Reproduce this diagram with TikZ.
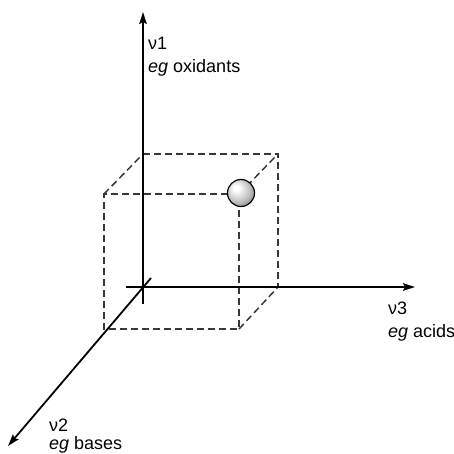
\documentclass[tikz,border=0pt]{standalone}
\usepackage{fontspec}
\setmainfont{Liberation Sans}
\usetikzlibrary{arrows.meta}
\pgfdeclareradialshading{sphereshade}{\pgfpoint{-10bp}{10bp}}{color(0bp)=(white); color(5bp)=(white); color(24bp)=(gray!55); color(42bp)=(gray!60!black); color(60bp)=(gray!50!black)}
\tikzset{
  axis/.style={line width=1.8pt, draw=black, -{Stealth[length=12pt,width=7.5pt,inset=2pt]}},
  edge/.style={line width=1.5pt, draw=black!78, dash pattern=on 7pt off 4pt},
  lbl/.style={anchor=base west, inner sep=0pt, font=\fontsize{18}{21}\selectfont},
  ball/.style={circle, minimum size=27pt, inner sep=0pt, draw=black, line width=1.2pt, shading=sphereshade}
}
\begin{document}
\begin{tikzpicture}[x=1pt,y=-1pt]
\useasboundingbox (0,0) rectangle (454,453);
% axis end points
\coordinate (vbot) at (143,304);
\coordinate (vtop) at (143,12);
\coordinate (hleft) at (126,287);
\coordinate (hright) at (415,287);
\coordinate (dtop) at (151,278);
\coordinate (dbot) at (8,446);
% cube corners (back face b*, front face f*)
\coordinate (btl) at (143,154);
\coordinate (btr) at (278,154);
\coordinate (bbr) at (278,287);
\coordinate (ftl) at (104,194);
\coordinate (ftr) at (239,194);
\coordinate (fbl) at (104,329);
\coordinate (fbr) at (239,329);
% dashed cube
\draw[edge] (btl) -- (btr) -- (bbr);
\draw[edge] (ftr) -- (ftl) -- (fbl) -- (fbr) -- (ftr);
\draw[edge] (ftl) -- (btl);
\draw[edge] (ftr) -- (btr);
\draw[edge] (fbr) -- (bbr);
% axes
\draw[axis] (vbot) -- (vtop);
\draw[axis] (hleft) -- (hright);
\draw[axis] (dtop) -- (dbot);
% sphere
\node[ball] (sph) at (241,193) {};
% labels
\node[lbl] (n1) at (148,49) {ν1};
\node[lbl] (e1) at (148,72) {\textit{eg} oxidants};
\node[lbl] (n3) at (388,314) {ν3};
\node[lbl] (e3) at (388,337) {\textit{eg} acids};
\node[lbl] (n2) at (49,431) {ν2};
\node[lbl] (e2) at (49,449) {\textit{eg} bases};
\end{tikzpicture}
\end{document}
